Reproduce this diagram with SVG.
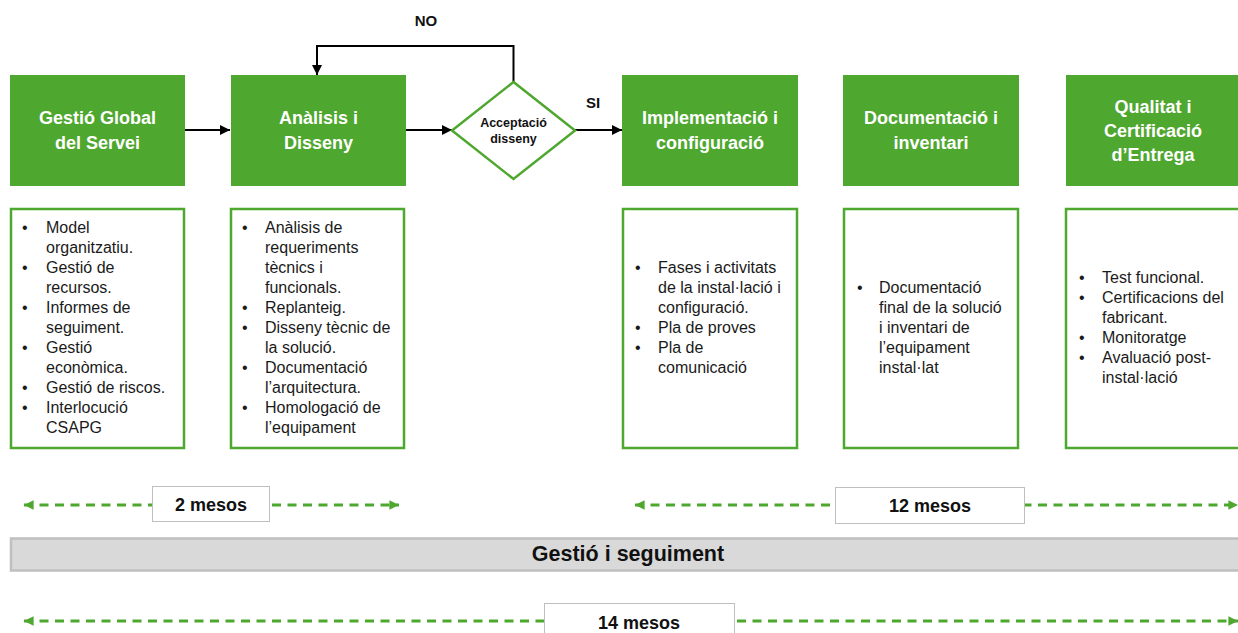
<svg xmlns="http://www.w3.org/2000/svg" width="1238" height="633" viewBox="0 0 1238 633">
<style>
.phase{fill:#4EA72E;}
.ph{font-family:"Liberation Sans",Arial,sans-serif;font-weight:bold;font-size:18px;fill:#fff;text-anchor:middle;}
.list{fill:#fff;stroke:#4EA72E;stroke-width:2.5;}
.li{font-family:"Liberation Sans",Arial,sans-serif;font-size:16px;fill:#1a1a1a;}
.lbl{font-family:"Liberation Sans",Arial,sans-serif;font-weight:bold;fill:#111;text-anchor:middle;}
.conn{fill:none;stroke:#000;stroke-width:2;}
.dash{fill:none;stroke:#4EA72E;stroke-width:3;stroke-dasharray:9 6.5;}
.mbox{fill:#fff;stroke:#bfbfbf;stroke-width:1;}
</style>
<defs>
<marker id="ah" viewBox="0 0 10 10" refX="10" refY="5" markerWidth="5" markerHeight="5" orient="auto" markerUnits="strokeWidth">
<path d="M0,0 L10,5 L0,10 z" fill="#000"/>
</marker>
<marker id="gh" viewBox="0 0 10 10" refX="10" refY="5" markerWidth="3.6" markerHeight="3.2" orient="auto-start-reverse" markerUnits="strokeWidth">
<path d="M0,0 L10,5 L0,10 z" fill="#4EA72E"/>
</marker>
</defs>

<g id="connectors">
<line class="conn" x1="185" y1="130" x2="230" y2="130" marker-end="url(#ah)"/>
<line class="conn" x1="406" y1="130" x2="452" y2="130" marker-end="url(#ah)"/>
<line class="conn" x1="575" y1="130" x2="622" y2="130" marker-end="url(#ah)"/>
<polyline class="conn" points="513.5,82 513.5,46 317,46 317,75" marker-end="url(#ah)"/>
<line class="dash" x1="24" y1="505" x2="399" y2="505" marker-start="url(#gh)" marker-end="url(#gh)"/>
<line class="dash" x1="635" y1="505" x2="1238" y2="505" marker-start="url(#gh)" marker-end="url(#gh)"/>
<line class="dash" x1="24" y1="621" x2="1238" y2="621" marker-start="url(#gh)" marker-end="url(#gh)"/>
</g>

<g id="label-no"><text class="lbl" x="426" y="26" font-size="15">NO</text></g>
<g id="label-si"><text class="lbl" x="593" y="108" font-size="15">SI</text></g>

<g id="phase1">
<rect class="phase" x="10" y="75" width="175" height="111"/>
<text class="ph" x="97.5" y="124">Gestió Global</text>
<text class="ph" x="97.5" y="149">del Servei</text>
</g>
<g id="phase2">
<rect class="phase" x="231" y="75" width="175" height="111"/>
<text class="ph" x="318.5" y="124">Anàlisis i</text>
<text class="ph" x="318.5" y="149">Disseny</text>
</g>
<g id="decision">
<polygon points="513.5,82 575,130.5 513.5,179 452,130.5" fill="#fff" stroke="#4EA72E" stroke-width="2.5"/>
<text class="lbl" x="513.5" y="127" font-size="12.5">Acceptació</text>
<text class="lbl" x="513.5" y="143" font-size="12.5">disseny</text>
</g>
<g id="phase3">
<rect class="phase" x="622" y="75" width="176" height="111"/>
<text class="ph" x="710" y="124">Implementació i</text>
<text class="ph" x="710" y="149">configuració</text>
</g>
<g id="phase4">
<rect class="phase" x="843" y="75" width="176" height="111"/>
<text class="ph" x="931" y="124">Documentació i</text>
<text class="ph" x="931" y="149">inventari</text>
</g>
<g id="phase5">
<rect class="phase" x="1066" y="75" width="180" height="111"/>
<text class="ph" x="1153" y="113">Qualitat i</text>
<text class="ph" x="1153" y="137">Certificació</text>
<text class="ph" x="1153" y="161">d’Entrega</text>
</g>

<g id="list1">
<rect class="list" x="11" y="209" width="173" height="239"/>
<g class="li">
<text x="22" y="233">•</text><text x="46" y="233">Model</text>
<text x="46" y="253">organitzatiu.</text>
<text x="22" y="273">•</text><text x="46" y="273">Gestió de</text>
<text x="46" y="293">recursos.</text>
<text x="22" y="313">•</text><text x="46" y="313">Informes de</text>
<text x="46" y="333">seguiment.</text>
<text x="22" y="353">•</text><text x="46" y="353">Gestió</text>
<text x="46" y="373">econòmica.</text>
<text x="22" y="393">•</text><text x="46" y="393">Gestió de riscos.</text>
<text x="22" y="413">•</text><text x="46" y="413">Interlocució</text>
<text x="46" y="433">CSAPG</text>
</g>
</g>
<g id="list2">
<rect class="list" x="231" y="209" width="173" height="239"/>
<g class="li">
<text x="242" y="233">•</text><text x="265" y="233">Anàlisis de</text>
<text x="265" y="253">requeriments</text>
<text x="265" y="273">tècnics i</text>
<text x="265" y="293">funcionals.</text>
<text x="242" y="313">•</text><text x="265" y="313">Replanteig.</text>
<text x="242" y="333">•</text><text x="265" y="333">Disseny tècnic de</text>
<text x="265" y="353">la solució.</text>
<text x="242" y="373">•</text><text x="265" y="373">Documentació</text>
<text x="265" y="393">l’arquitectura.</text>
<text x="242" y="413">•</text><text x="265" y="413">Homologació de</text>
<text x="265" y="433">l’equipament</text>
</g>
</g>
<g id="list3">
<rect class="list" x="623" y="209" width="174" height="239"/>
<g class="li">
<text x="635" y="273">•</text><text x="658" y="273">Fases i activitats</text>
<text x="658" y="293">de la instal·lació i</text>
<text x="658" y="313">configuració.</text>
<text x="635" y="333">•</text><text x="658" y="333">Pla de proves</text>
<text x="635" y="353">•</text><text x="658" y="353">Pla de</text>
<text x="658" y="373">comunicació</text>
</g>
</g>
<g id="list4">
<rect class="list" x="844" y="209" width="174" height="239"/>
<g class="li">
<text x="857" y="293">•</text><text x="879" y="293">Documentació</text>
<text x="879" y="313">final de la solució</text>
<text x="879" y="333">i inventari de</text>
<text x="879" y="353">l’equipament</text>
<text x="879" y="373">instal·lat</text>
</g>
</g>
<g id="list5">
<rect class="list" x="1066" y="209" width="180" height="239"/>
<g class="li">
<text x="1079" y="283">•</text><text x="1102" y="283">Test funcional.</text>
<text x="1079" y="303">•</text><text x="1102" y="303">Certificacions del</text>
<text x="1102" y="323">fabricant.</text>
<text x="1079" y="343">•</text><text x="1102" y="343">Monitoratge</text>
<text x="1079" y="363">•</text><text x="1102" y="363">Avaluació post-</text>
<text x="1102" y="383">instal·lació</text>
</g>
</g>

<g id="dur2">
<rect class="mbox" x="152.5" y="486.5" width="117" height="35"/>
<text class="lbl" x="211" y="511" font-size="18">2 mesos</text>
</g>
<g id="dur12">
<rect class="mbox" x="835.5" y="487.5" width="189" height="36"/>
<text class="lbl" x="930" y="512" font-size="18">12 mesos</text>
</g>
<g id="bar">
<rect x="11" y="538.5" width="1230" height="32" fill="#d9d9d9" stroke="#bfbfbf" stroke-width="2.5"/>
<text class="lbl" x="628" y="561" font-size="21.5">Gestió i seguiment</text>
</g>
<g id="dur14">
<rect class="mbox" x="544.5" y="603.5" width="190" height="40"/>
<text class="lbl" x="639" y="629" font-size="18">14 mesos</text>
</g>
</svg>
